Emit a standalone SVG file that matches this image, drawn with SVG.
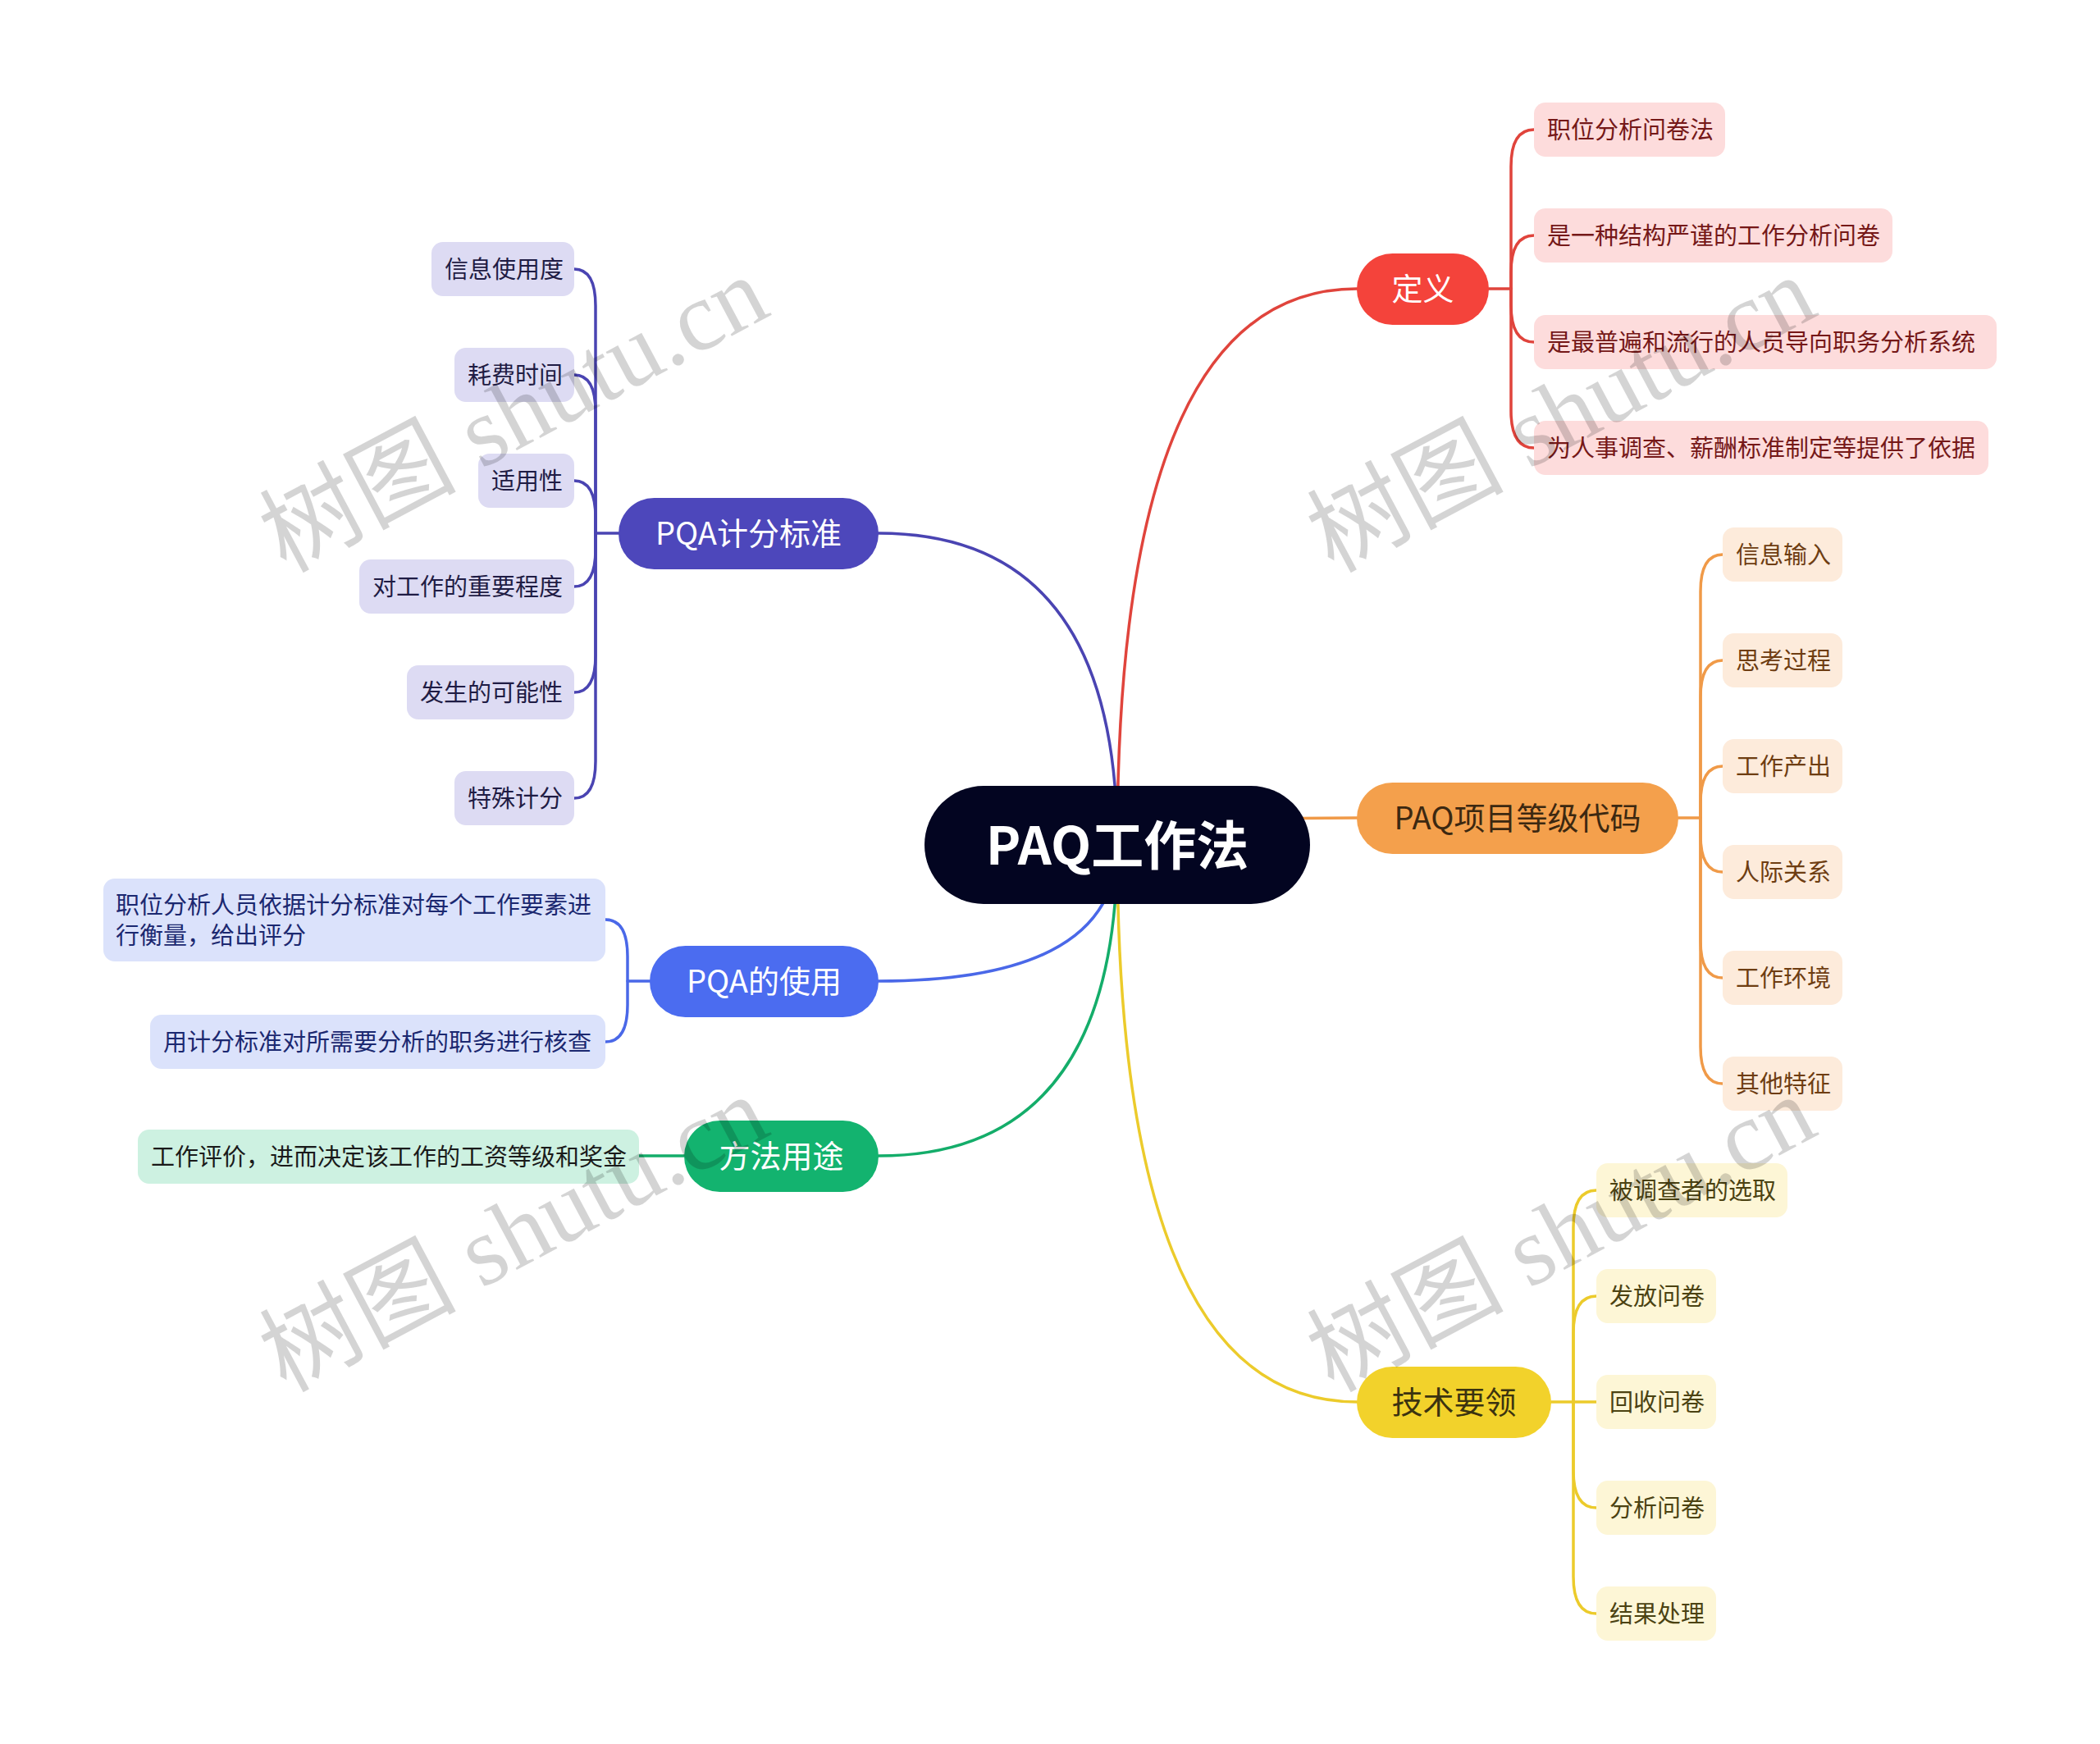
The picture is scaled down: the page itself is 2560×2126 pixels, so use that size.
<svg xmlns="http://www.w3.org/2000/svg" width="2560" height="2126" viewBox="0 0 2560 2126">
<style>
.c{fill:none;stroke-width:3.5;stroke-linecap:round;stroke-linejoin:round}
.t{font-family:"Noto Sans CJK SC","Noto Sans",sans-serif}
.s{font-size:29px}
.m{font-size:38px;text-anchor:middle}
.wm{font-family:"Liberation Serif","Noto Sans CJK SC",serif;font-size:120px;fill:#000;fill-opacity:0.17}
</style>
<rect width="2560" height="2126" fill="#ffffff"/>
<g id="connectors">
<path class="c" stroke="#e0443c" d="M1362,1030 Q1362,352 1654,352"/>
<path class="c" stroke="#4a44b2" d="M1362,1030 Q1362,650 1071,650"/>
<path class="c" stroke="#f09a48" d="M1362,1030 Q1362,997 1654,997"/>
<path class="c" stroke="#eccb2b" d="M1362,1030 Q1362,1709 1654,1709"/>
<path class="c" stroke="#4a68e8" d="M1362,1030 Q1362,1196 1071,1196"/>
<path class="c" stroke="#14ad6a" d="M1362,1030 Q1362,1409 1071,1409"/>
<g stroke="#e0443c">
<path class="c" d="M1815,352 H1842 V203 Q1842,158 1870,158"/>
<path class="c" d="M1842,352 V332 Q1842,287 1870,287"/>
<path class="c" d="M1842,352 V372 Q1842,417 1870,417"/>
<path class="c" d="M1842,352 V501 Q1842,546 1870,546"/>
</g>
<g stroke="#f09a48">
<path class="c" d="M2046,997 H2073 V721 Q2073,676 2100,676"/>
<path class="c" d="M2073,997 V850 Q2073,805 2100,805"/>
<path class="c" d="M2073,997 V979 Q2073,934 2100,934"/>
<path class="c" d="M2073,997 V1018 Q2073,1063 2100,1063"/>
<path class="c" d="M2073,997 V1147 Q2073,1192 2100,1192"/>
<path class="c" d="M2073,997 V1276 Q2073,1321 2100,1321"/>
</g>
<g stroke="#eccb2b">
<path class="c" d="M1891,1709 H1946"/>
<path class="c" d="M1918,1709 V1496 Q1918,1451 1946,1451"/>
<path class="c" d="M1918,1709 V1625 Q1918,1580 1946,1580"/>
<path class="c" d="M1918,1709 V1793 Q1918,1838 1946,1838"/>
<path class="c" d="M1918,1709 V1922 Q1918,1967 1946,1967"/>
</g>
<g stroke="#4a44b2">
<path class="c" d="M754,650 H726 V373 Q726,328 700,328"/>
<path class="c" d="M726,650 V502 Q726,457 700,457"/>
<path class="c" d="M726,650 V631 Q726,586 700,586"/>
<path class="c" d="M726,650 V670 Q726,715 700,715"/>
<path class="c" d="M726,650 V799 Q726,844 700,844"/>
<path class="c" d="M726,650 V928 Q726,973 700,973"/>
</g>
<g stroke="#4a68e8">
<path class="c" d="M792,1196 H765 V1166 Q765,1121 738,1121"/>
<path class="c" d="M765,1196 V1225 Q765,1270 738,1270"/>
</g>
<path class="c" stroke="#14ad6a" d="M834,1409 H779"/>
</g>
<g id="root">
<rect x="1127" y="958" width="470" height="144" rx="72" fill="#030521"/>
<text class="t" x="1362" y="1054" font-size="64" font-weight="bold" fill="#ffffff" text-anchor="middle">PAQ工作法</text>
</g>
<g id="b-dingyi">
<rect x="1654" y="309" width="161" height="87" rx="43.5" fill="#f4433b"/>
<text class="t m" x="1734.5" y="366" fill="#ffffff">定义</text>
</g>
<g id="b-paq">
<rect x="1654" y="954" width="392" height="87" rx="43.5" fill="#f4a04c"/>
<text class="t m" x="1850" y="1011" fill="#3c2811">PAQ项目等级代码</text>
</g>
<g id="b-jishu">
<rect x="1654" y="1666" width="237" height="87" rx="43.5" fill="#f2d22b"/>
<text class="t m" x="1772.5" y="1723" fill="#3b3310">技术要领</text>
</g>
<g id="b-pqa1">
<rect x="754" y="607" width="317" height="87" rx="43.5" fill="#4d47bb"/>
<text class="t m" x="912.5" y="664" fill="#ffffff">PQA计分标准</text>
</g>
<g id="b-pqa2">
<rect x="792" y="1153" width="279" height="87" rx="43.5" fill="#4b6cf0"/>
<text class="t m" x="931.5" y="1210" fill="#ffffff">PQA的使用</text>
</g>
<g id="b-fangfa">
<rect x="834" y="1366" width="237" height="87" rx="43.5" fill="#13b36f"/>
<text class="t m" x="952.5" y="1423" fill="#ffffff">方法用途</text>
</g>
<g id="n-d1"><rect x="1870" y="125" width="233" height="66" rx="14" fill="#fddcdc"/><text class="t s" x="1886" y="169" fill="#751818">职位分析问卷法</text></g>
<g id="n-d2"><rect x="1870" y="254" width="437" height="66" rx="14" fill="#fddcdc"/><text class="t s" x="1886" y="298" fill="#751818">是一种结构严谨的工作分析问卷</text></g>
<g id="n-d3"><rect x="1870" y="384" width="564" height="66" rx="14" fill="#fddcdc"/><text class="t s" x="1886" y="428" fill="#751818">是最普遍和流行的人员导向职务分析系统</text></g>
<g id="n-d4"><rect x="1870" y="513" width="554" height="66" rx="14" fill="#fddcdc"/><text class="t s" x="1886" y="557" fill="#751818">为人事调查、薪酬标准制定等提供了依据</text></g>
<g id="n-p1"><rect x="2100" y="643" width="146" height="66" rx="14" fill="#fdebdb"/><text class="t s" x="2116" y="687" fill="#6e3d12">信息输入</text></g>
<g id="n-p2"><rect x="2100" y="772" width="146" height="66" rx="14" fill="#fdebdb"/><text class="t s" x="2116" y="816" fill="#6e3d12">思考过程</text></g>
<g id="n-p3"><rect x="2100" y="901" width="146" height="66" rx="14" fill="#fdebdb"/><text class="t s" x="2116" y="945" fill="#6e3d12">工作产出</text></g>
<g id="n-p4"><rect x="2100" y="1030" width="146" height="66" rx="14" fill="#fdebdb"/><text class="t s" x="2116" y="1074" fill="#6e3d12">人际关系</text></g>
<g id="n-p5"><rect x="2100" y="1159" width="146" height="66" rx="14" fill="#fdebdb"/><text class="t s" x="2116" y="1203" fill="#6e3d12">工作环境</text></g>
<g id="n-p6"><rect x="2100" y="1288" width="146" height="66" rx="14" fill="#fdebdb"/><text class="t s" x="2116" y="1332" fill="#6e3d12">其他特征</text></g>
<g id="n-j1"><rect x="1946" y="1418" width="233" height="66" rx="14" fill="#fdf6d6"/><text class="t s" x="1962" y="1462" fill="#4b4212">被调查者的选取</text></g>
<g id="n-j2"><rect x="1946" y="1547" width="146" height="66" rx="14" fill="#fdf6d6"/><text class="t s" x="1962" y="1591" fill="#4b4212">发放问卷</text></g>
<g id="n-j3"><rect x="1946" y="1676" width="146" height="66" rx="14" fill="#fdf6d6"/><text class="t s" x="1962" y="1720" fill="#4b4212">回收问卷</text></g>
<g id="n-j4"><rect x="1946" y="1805" width="146" height="66" rx="14" fill="#fdf6d6"/><text class="t s" x="1962" y="1849" fill="#4b4212">分析问卷</text></g>
<g id="n-j5"><rect x="1946" y="1934" width="146" height="66" rx="14" fill="#fdf6d6"/><text class="t s" x="1962" y="1978" fill="#4b4212">结果处理</text></g>
<g id="n-q1"><rect x="526" y="295" width="174" height="66" rx="14" fill="#dddbf3"/><text class="t s" x="542" y="339" fill="#1f1c44">信息使用度</text></g>
<g id="n-q2"><rect x="554" y="424" width="146" height="66" rx="14" fill="#dddbf3"/><text class="t s" x="570" y="468" fill="#1f1c44">耗费时间</text></g>
<g id="n-q3"><rect x="583" y="553" width="117" height="66" rx="14" fill="#dddbf3"/><text class="t s" x="599" y="597" fill="#1f1c44">适用性</text></g>
<g id="n-q4"><rect x="438" y="682" width="262" height="66" rx="14" fill="#dddbf3"/><text class="t s" x="454" y="726" fill="#1f1c44">对工作的重要程度</text></g>
<g id="n-q5"><rect x="496" y="811" width="204" height="66" rx="14" fill="#dddbf3"/><text class="t s" x="512" y="855" fill="#1f1c44">发生的可能性</text></g>
<g id="n-q6"><rect x="554" y="940" width="146" height="66" rx="14" fill="#dddbf3"/><text class="t s" x="570" y="984" fill="#1f1c44">特殊计分</text></g>
<g id="n-u1"><rect x="126" y="1071" width="612" height="101" rx="14" fill="#dbe2fb"/><text class="t s" fill="#1b2870"><tspan x="141" y="1114">职位分析人员依据计分标准对每个工作要素进</tspan><tspan x="141" y="1151">行衡量，给出评分</tspan></text></g>
<g id="n-u2"><rect x="183" y="1237" width="555" height="66" rx="14" fill="#dbe2fb"/><text class="t s" x="199" y="1281" fill="#1b2870">用计分标准对所需要分析的职务进行核查</text></g>
<g id="n-f1"><rect x="168" y="1377" width="611" height="66" rx="14" fill="#cdf1e1"/><text class="t s" x="184" y="1421" fill="#1a1a1a">工作评价，进而决定该工作的工资等级和奖金</text></g>
<g id="watermark">
<text class="wm" transform="translate(348,699) rotate(-28)">树图 shutu.cn</text>
<text class="wm" transform="translate(1625,699) rotate(-28)">树图 shutu.cn</text>
<text class="wm" transform="translate(348,1698) rotate(-28)">树图 shutu.cn</text>
<text class="wm" transform="translate(1625,1698) rotate(-28)">树图 shutu.cn</text>
</g>
</svg>
